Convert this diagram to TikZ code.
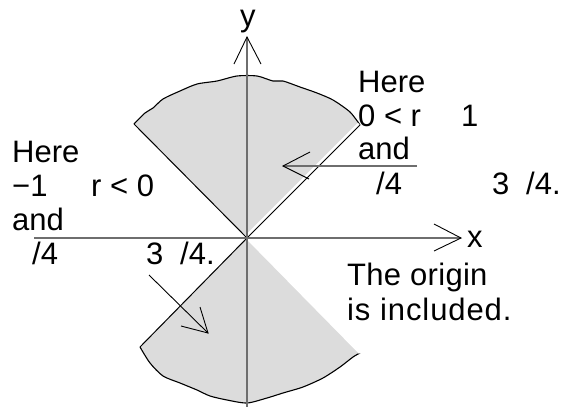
\documentclass[tikz,border=0pt]{standalone}
\usepackage{fontspec}
\setmainfont{Liberation Sans}
\definecolor{wedgegray}{HTML}{DCDCDC}
\definecolor{axisgray}{HTML}{6E6E6E}
\begin{document}
\begin{tikzpicture}[x=1pt,y=-1pt,
  lbl/.style={anchor=base west,inner sep=0pt,font=\fontsize{31}{34}\selectfont},
  axisline/.style={draw=axisgray,line width=1.8pt},
  thinline/.style={draw=black,line width=0.9pt,line join=miter},
  edgeline/.style={draw=black,line width=1pt},
  arcline/.style={draw=black,line width=1.1pt}]
\useasboundingbox (0,0) rectangle (571,407);
% key points
\coordinate (O) at (247,238);
\coordinate (UL) at (134,124);
\coordinate (UR) at (360,125);
\coordinate (LL) at (140,347);
\coordinate (LR) at (360,353);
% upper wedge
\fill[wedgegray] (O) -- (UL) -- plot[smooth,tension=0.45] coordinates {(134,124) (145,113) (153,108) (163,99) (180,91) (197,84) (217,81) (237,76) (257,76) (273,81) (283,81) (300,87) (317,93) (333,100) (350,112) (360,125)} -- cycle;
\draw[arcline] plot[smooth,tension=0.45] coordinates {(134,124) (145,113) (153,108) (163,99) (180,91) (197,84) (217,81) (237,76) (257,76) (273,81) (283,81) (300,87) (317,93) (333,100) (350,112) (360,125)};
% lower wedge
\fill[wedgegray] (O) -- (LL) -- plot[smooth,tension=0.45] coordinates {(140,347) (150,363) (163,376) (180,383) (197,390) (210,396) (227,400) (247,403) (267,398) (283,393) (303,387) (323,378) (340,367) (353,357) (360,353)} -- cycle;
\draw[arcline] plot[smooth,tension=0.45] coordinates {(140,347) (150,363) (163,376) (180,383) (197,390) (210,396) (227,400) (247,403) (267,398) (283,393) (303,387) (323,378) (340,367) (353,357) (360,353)};
% wedge edges
\draw[white,line width=2.5pt,transform canvas={xshift=-1.3pt,yshift=1.3pt}] (O) -- (UR);
\draw[edgeline] (O) -- (UR);
\draw[edgeline] (O) -- (UL);
\draw[edgeline] (O) -- (LL);
\draw[white,line width=2.5pt] (O) -- (LR);
% axes
\coordinate (xs) at (34,238);
\coordinate (xe) at (461,238);
\coordinate (xh1) at (434,224);
\coordinate (xh2) at (434,251);
\coordinate (ys) at (247,407);
\coordinate (ye) at (247,37);
\coordinate (yh1) at (234,64);
\coordinate (yh2) at (261,64);
\draw[axisline] (xs) -- (xe);
\draw[axisline] (ys) -- (ye);
\draw[thinline] (xh1) -- (xe) -- (xh2);
\draw[thinline] (yh1) -- (ye) -- (yh2);
% upper arrow
\coordinate (a1s) at (417,166);
\coordinate (a1e) at (283,166);
\coordinate (a1h1) at (310,152);
\coordinate (a1h2) at (309,179);
\draw[axisline] (a1s) -- (a1e);
\draw[thinline] (a1h1) -- (a1e) -- (a1h2);
% lower arrow
\coordinate (a2s) at (149,275);
\coordinate (a2e) at (208,333);
\coordinate (a2h1) at (200,307);
\coordinate (a2h2) at (181,326);
\draw[thinline] (a2s) -- (a2e);
\draw[thinline] (a2h1) -- (a2e) -- (a2h2);
% axis labels
\node[lbl] (xl) at (467,247) {x};
\node[lbl] (yl) at (240,26) {y};
% left text
\node[lbl] (l1) at (12,162) {Here};
\node[lbl] (l2a) at (12,196) {−1};
\node[lbl] (l2b) at (91,196) {r < 0};
\node[lbl] (l3) at (12,230) {and};
\node[lbl] (l4a) at (32,264) {/4};
\node[lbl] (l4b) at (146,264) {3};
\node[lbl] (l4c) at (180,264) {/4.};
% right text
\node[lbl] (r1) at (358,92) {Here};
\node[lbl] (r2a) at (358,126) {0 < r};
\node[lbl] (r2b) at (461,126) {1};
\node[lbl] (r3) at (358,159) {and};
\node[lbl] (r4a) at (376,194) {/4};
\node[lbl] (r4b) at (492,194) {3};
\node[lbl] (r4c) at (526,194) {/4.};
% origin note
\node[lbl] (o1) at (347,285) {\addfontfeature{LetterSpace=1}The origin};
\node[lbl] (o2) at (347,320) {\addfontfeature{LetterSpace=3}is included.};
\end{tikzpicture}
\end{document}
